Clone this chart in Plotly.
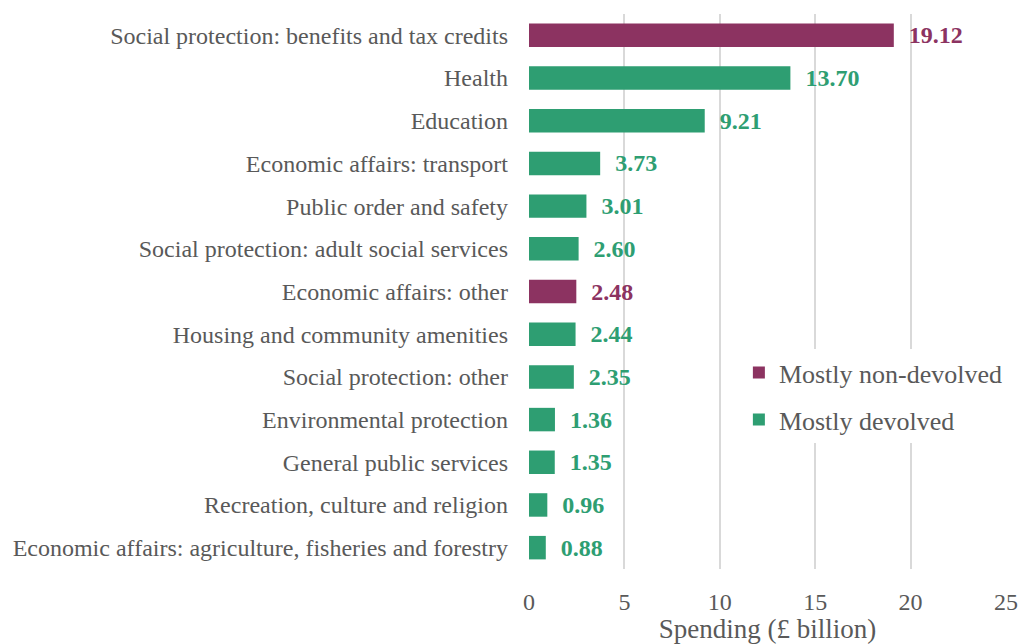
import plotly.graph_objects as go

categories = [
    "Social protection: benefits and tax credits",
    "Health",
    "Education",
    "Economic affairs: transport",
    "Public order and safety",
    "Social protection: adult social services",
    "Economic affairs: other",
    "Housing and community amenities",
    "Social protection: other",
    "Environmental protection",
    "General public services",
    "Recreation, culture and religion",
    "Economic affairs: agriculture, fisheries and forestry",
]
spending = [19.12, 13.70, 9.21, 3.73, 3.01, 2.60, 2.48, 2.44, 2.35, 1.36, 1.35, 0.96, 0.88]
group = ["non", "dev", "dev", "dev", "dev", "dev", "non", "dev", "dev", "dev", "dev", "dev", "dev"]

x_ticks = [0, 5, 10, 15, 20, 25]

PURPLE = "#8C3361"
GREEN = "#2E9E72"
GREY = "#595959"
FONT = "Liberation Serif"

series = [
    ("Mostly non-devolved", "non", PURPLE),
    ("Mostly devolved", "dev", GREEN),
]

fig = go.Figure()
for name, key, colour in series:
    ys = [c for c, g in zip(categories, group) if g == key]
    xs = [v for v, g in zip(spending, group) if g == key]
    fig.add_trace(go.Bar(
        y=ys, x=xs, orientation="h", name=name, legendgroup=key,
        marker=dict(color=colour, line=dict(width=0)),
        width=0.55,
        text=xs,
        texttemplate="\u00a0\u00a0%{x:.2f}",
        textposition="outside",
        constraintext="none",
        textfont=dict(family=FONT, size=24, color=colour, weight="bold"),
        cliponaxis=False,
    ))

fig.update_layout(
    width=1020, height=644,
    margin=dict(l=529, r=14, t=14, b=75, autoexpand=False),
    paper_bgcolor="white", plot_bgcolor="white",
    barmode="overlay",
    font=dict(family=FONT, color=GREY, size=24),
    showlegend=True,
    legend=dict(
        x=0.44, y=0.396, xanchor="left", yanchor="top",
        bgcolor="white",
        font=dict(family=FONT, size=26, color=GREY),
        tracegroupgap=10, itemsizing="constant",
        traceorder="grouped",
    ),
    xaxis=dict(
        range=[0, 25], tickvals=x_ticks,
        showgrid=True, gridcolor="#D9D9D9", gridwidth=2,
        zeroline=False, showline=False, automargin=False,
        tickfont=dict(family=FONT, size=24, color=GREY),
        ticklabelstandoff=16,
        title=dict(text="Spending (£ billion)", font=dict(family=FONT, size=27, color=GREY), standoff=4),
        ticks="", ticklen=0,
    ),
    yaxis=dict(
        categoryorder="array", categoryarray=categories[::-1],
        tickfont=dict(family=FONT, size=24, color=GREY),
        showgrid=False, zeroline=False, showline=False, automargin=False,
        ticks="", ticklen=0, ticklabelstandoff=20,
    ),
)

fig.write_html("out.html")
